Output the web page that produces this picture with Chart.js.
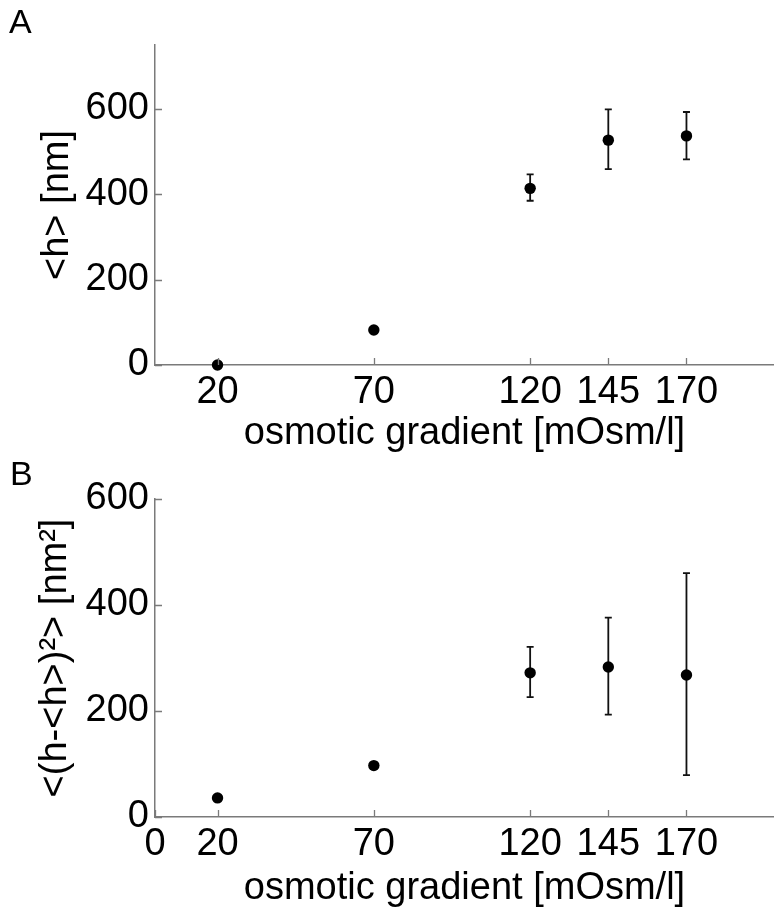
<!DOCTYPE html>
<html>
<head>
<meta charset="utf-8">
<script src="https://cdn.jsdelivr.net/npm/chart.js@4/dist/chart.umd.min.js"></script>
<style>
  html, body { margin: 0; padding: 0; background: #fff; overflow: hidden; }
  #wrap { position: relative; width: 774px; height: 911px; }
  #panelA { position: absolute; left: 0; top: 0; }
  #panelB { position: absolute; left: 0; top: 450px; }
</style>
</head>
<body>
<div id="wrap">
  <canvas id="panelA" width="774" height="460"></canvas>
  <canvas id="panelB" width="774" height="461"></canvas>
</div>
<script>
// Osmotic gradient levels [mOsm/l]
const gradient = [20, 70, 120, 145, 170];

// Panel A: mean height <h> [nm] with error bar bounds
const meanH     = [0, 82, 414, 527, 537];
const meanHLow  = [null, null, 385, 459, 482];
const meanHHigh = [null, null, 447, 599, 593];

// Panel B: height variance <(h-<h>)^2> [nm^2] with error bar bounds
const varH     = [36, 97, 272, 283, 268];
const varHLow  = [null, null, 226, 193, 79];
const varHHigh = [null, null, 321, 376, 460];

// Tick labels
const xTicksA = [20, 70, 120, 145, 170];
const xTicksB = [0, 20, 70, 120, 145, 170];
const yTicksA = [0, 200, 400, 600];
const yTicksB = [0, 200, 400, 600];

const FONT = "'Liberation Sans', Arial, Helvetica, sans-serif";
const AXIS_GRAY = '#7a7a7a';

// Error bars with caps, drawn beneath the markers
const errorBars = {
  id: 'errorBars',
  beforeDatasetsDraw(chart) {
    const { ctx, scales: { x, y } } = chart;
    chart.data.datasets.forEach(ds => {
      if (!ds.errLow) return;
      ds.data.forEach((p, i) => {
        const lo = ds.errLow[i], hi = ds.errHigh[i];
        if (lo == null || hi == null) return;
        const px = x.getPixelForValue(p.x);
        const pLo = y.getPixelForValue(lo);
        const pHi = y.getPixelForValue(hi);
        const cap = 3.5;
        ctx.save();
        ctx.strokeStyle = '#111';
        ctx.lineWidth = 1.8;
        ctx.beginPath();
        ctx.moveTo(px, pLo); ctx.lineTo(px, pHi);
        ctx.moveTo(px - cap, pLo); ctx.lineTo(px + cap, pLo);
        ctx.moveTo(px - cap, pHi); ctx.lineTo(px + cap, pHi);
        ctx.stroke();
        ctx.restore();
      });
    });
  }
};

// Short tick marks pointing into the plot area
const innerTicks = {
  id: 'innerTicks',
  afterDraw(chart) {
    const { ctx, chartArea, scales: { x, y } } = chart;
    const len = 7;
    ctx.save();
    ctx.strokeStyle = AXIS_GRAY;
    ctx.lineWidth = 1.3;
    ctx.beginPath();
    x.ticks.forEach(t => {
      const px = Math.round(x.getPixelForValue(t.value)) + 0.5;
      ctx.moveTo(px, chartArea.bottom);
      ctx.lineTo(px, chartArea.bottom - len);
    });
    y.ticks.forEach(t => {
      const py = Math.round(y.getPixelForValue(t.value)) + 0.5;
      ctx.moveTo(chartArea.left, py);
      ctx.lineTo(chartArea.left + len, py);
    });
    ctx.stroke();
    ctx.restore();
  }
};

function makePanel(canvasId, opts) {
  const points = gradient.map((g, i) => ({ x: g, y: opts.values[i] }));
  return new Chart(document.getElementById(canvasId), {
    type: 'scatter',
    data: {
      datasets: [{
        data: points,
        errLow: opts.low,
        errHigh: opts.high,
        backgroundColor: '#000',
        borderColor: '#000',
        pointRadius: 5.7,
        pointHoverRadius: 5.7,
        borderWidth: 0,
        clip: false
      }]
    },
    options: {
      responsive: false,
      animation: false,
      events: [],
      layout: { autoPadding: false, padding: { left: opts.padLeft, right: 0, top: 0, bottom: 0 } },
      plugins: {
        legend: { display: false },
        tooltip: { enabled: false },
        title: {
          display: true,
          text: opts.letter,
          align: 'start',
          color: '#000',
          font: { family: FONT, size: 34, weight: 'normal', lineHeight: 1 },
          padding: { top: opts.letterTop, bottom: opts.letterBottom }
        }
      },
      scales: {
        x: {
          type: 'linear',
          min: 0,
          max: 198,
          afterBuildTicks(scale) { scale.ticks = opts.xTicks.map(v => ({ value: v })); },
          afterFit(scale) { scale.height = opts.xHeight; },
          grid: { display: true, drawOnChartArea: false, drawTicks: false },
          border: { display: true, color: AXIS_GRAY, width: 1.5 },
          ticks: {
            color: '#000',
            padding: 5,
            maxRotation: 0,
            autoSkip: false,
            font: { family: FONT, size: 38 },
            callback: v => String(v)
          },
          title: {
            display: true,
            text: 'osmotic gradient [mOsm/l]',
            color: '#000',
            font: { family: FONT, size: 38, lineHeight: 1 },
            padding: { top: 0, bottom: opts.xTitlePad }
          }
        },
        y: {
          type: 'linear',
          min: 0,
          max: opts.yMax,
          afterBuildTicks(scale) { scale.ticks = opts.yTicks.map(v => ({ value: v })); },
          afterFit(scale) { scale.width = 155 - opts.padLeft; },
          grid: { display: true, drawOnChartArea: false, drawTicks: false },
          border: { display: true, color: AXIS_GRAY, width: 1.5 },
          ticks: {
            color: '#000',
            padding: 6,
            autoSkip: false,
            font: { family: FONT, size: 38 },
            callback: v => String(v)
          },
          title: {
            display: true,
            text: opts.yTitle,
            color: '#000',
            font: { family: FONT, size: 38, lineHeight: 1 },
            padding: { top: opts.yTitlePad, bottom: 0 }
          }
        }
      }
    },
    plugins: [errorBars, innerTicks]
  });
}

makePanel('panelA', {
  letter: 'A', letterTop: 7, letterBottom: 4,
  values: meanH, low: meanHLow, high: meanHHigh,
  xTicks: xTicksA, yTicks: yTicksA, yMax: 750,
  yTitle: '<h> [nm]',
  padLeft: 9, xHeight: 95, xTitlePad: 7, yTitlePad: 30
});

makePanel('panelB', {
  letter: 'B', letterTop: 9, letterBottom: 6,
  values: varH, low: varHLow, high: varHHigh,
  xTicks: xTicksB, yTicks: yTicksB, yMax: 600,
  yTitle: '<(h-<h>)\u00B2> [nm\u00B2]',
  padLeft: 10, xHeight: 94, xTitlePad: 3, yTitlePad: 27
});
</script>
</body>
</html>
